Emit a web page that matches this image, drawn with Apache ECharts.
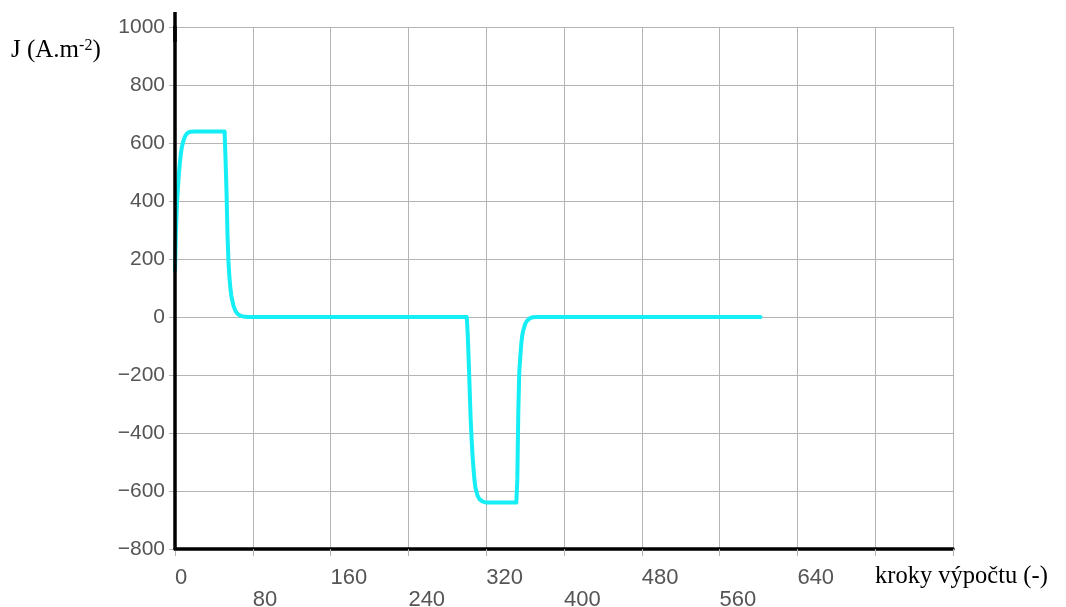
<!DOCTYPE html>
<html>
<head>
<meta charset="utf-8">
<script src="https://cdn.jsdelivr.net/npm/echarts@6/dist/echarts.min.js"></script>
<style>
  html, body { margin: 0; padding: 0; background: #ffffff; }
  #chart { width: 1066px; height: 607px; }
</style>
</head>
<body>
<div id="chart"></div>
<script>
// Calculation step index (x) and current density J in A.m^-2 (y)
const steps = [
  0, 1, 2, 3, 4, 5, 6, 7, 9, 11, 13, 16, 20,
  51, 52, 53, 54, 55, 56, 57, 58, 60, 62, 64, 67, 70, 75,
  300, 301, 302, 303, 304, 305, 306, 307, 308, 309, 311, 313, 316, 320,
  351, 352, 353, 354, 355, 356, 357, 358, 360, 362, 365, 368, 372,
  602
];
const currentDensity = [
  160, 300, 390, 445, 495, 532, 562, 585, 612, 627, 635, 639, 640,
  640, 540, 430, 280, 190, 135, 98, 72, 40, 22, 12, 5, 2, 0,
  0, -60, -150, -250, -350, -420, -480, -525, -565, -590, -615, -628, -636, -640,
  -640, -560, -330, -190, -140, -95, -65, -48, -24, -13, -4, -1, 0,
  0
];

// Axis ranges and tick labels
const xRange = [0, 800];
const xStep = 80;
const xLabelsUpper = [0, 160, 320, 480, 640];
const xLabelsLower = [80, 240, 400, 560];
const yRange = [-800, 1000];
const yStep = 200;

const yTitle = 'J (A.m';
const yTitleSup = '-2';
const xTitle = 'kroky výpočtu (-)';

const seriesData = steps.map((s, i) => [s, currentDensity[i]]);

// Plot frame
const W = 1066, H = 607;
const plotL = 175, plotR = 953, plotT = 27, plotB = 549;
const unitPx = (plotR - plotL) / (xRange[1] - xRange[0]);
const lowerFirst = xLabelsLower[0];
const lowerLast = xLabelsLower[xLabelsLower.length - 1];

const gridColor = '#b4b4b4';
const labelFont = 'Liberation Sans, Arial, sans-serif';
const serifFont = 'Liberation Serif, Times New Roman, serif';

const baseGrid = {
  top: plotT, bottom: H - plotB,
  outerBoundsMode: 'none', containLabel: false
};

const chart = echarts.init(document.getElementById('chart'), null, { renderer: 'canvas' });

chart.setOption({
  animation: false,
  backgroundColor: '#ffffff',
  title: [
    {
      text: '{a|' + yTitle + '}{s|' + yTitleSup + '}{a|)}',
      left: 11, top: 38, padding: 0,
      textStyle: {
        fontWeight: 'normal',
        rich: {
          a: { fontFamily: serifFont, fontSize: 25, lineHeight: 24, fontWeight: 'normal', color: '#000' },
          s: { fontFamily: serifFont, fontSize: 16, lineHeight: 14, fontWeight: 'normal', color: '#000', verticalAlign: 'top' }
        }
      }
    },
    {
      text: xTitle,
      left: 875, top: 565, padding: 0,
      textStyle: { fontFamily: serifFont, fontSize: 24.5, lineHeight: 24, fontWeight: 'normal', color: '#000' }
    }
  ],
  grid: [
    Object.assign({ left: plotL, right: W - plotR }, baseGrid),
    Object.assign({
      left: plotL + (lowerFirst - xRange[0]) * unitPx,
      right: W - (plotL + (lowerLast - xRange[0]) * unitPx)
    }, baseGrid),
    Object.assign({ left: plotL, right: W - plotR }, baseGrid)
  ],
  xAxis: [
    {
      type: 'value', gridIndex: 0,
      min: xRange[0], max: xRange[1], interval: xStep,
      axisLine: { show: true, onZero: false, lineStyle: { color: '#000', width: 3.5 } },
      axisTick: { show: true, length: 7, lineStyle: { color: gridColor, width: 1 } },
      splitLine: { show: true, lineStyle: { color: gridColor, width: 1 } },
      axisLabel: {
        margin: 18,
        align: 'left',
        showMaxLabel: true,
        formatter: v => {
          if (xLabelsUpper.indexOf(v) >= 0) return '{u|' + v + '}';
          if (xLabelsLower.indexOf(v) >= 0) return '{l|' + v + '}';
          return '';
        },
        rich: {
          u: { fontFamily: labelFont, fontSize: 22, lineHeight: 22, color: '#555' },
          l: { fontFamily: labelFont, fontSize: 22, lineHeight: 22, color: '#555', padding: [44, 0, 0, 0] }
        }
      }
    },
    {
      // longer ticks under the lower-row labels
      type: 'value', gridIndex: 1,
      min: lowerFirst, max: lowerLast, interval: xStep * 2,
      axisLine: { show: false },
      axisTick: { show: true, length: 15, lineStyle: { color: gridColor, width: 1 } },
      splitLine: { show: false },
      axisLabel: { show: false }
    },
    {
      type: 'value', gridIndex: 2, show: false,
      min: xRange[0], max: xRange[1]
    }
  ],
  yAxis: [
    {
      type: 'value', gridIndex: 0,
      min: yRange[0], max: yRange[1], interval: yStep,
      axisLine: { show: false },
      axisTick: { show: true, length: 6, lineStyle: { color: gridColor, width: 1 } },
      splitLine: { show: true, lineStyle: { color: gridColor, width: 1 } },
      axisLabel: {
        margin: 10,
        fontFamily: labelFont, fontSize: 21, color: '#555',
        formatter: v => (v < 0 ? '\u2212' + Math.abs(v) : String(v))
      }
    },
    {
      type: 'value', gridIndex: 1, show: false,
      min: yRange[0], max: yRange[1]
    },
    {
      // heavy vertical axis line drawn above the curve, extending past the top tick
      type: 'value', gridIndex: 2, z: 10,
      min: yRange[0], max: yRange[1],
      axisLine: {
        show: true, onZero: false,
        symbol: ['none', 'rect'], symbolSize: [3.5, 30],
        lineStyle: { color: '#000', width: 3.5 }
      },
      axisTick: { show: false },
      splitLine: { show: false },
      axisLabel: { show: false }
    }
  ],
  series: [
    {
      type: 'line',
      xAxisIndex: 0, yAxisIndex: 0,
      data: seriesData,
      showSymbol: false,
      symbol: 'none',
      smooth: false,
      lineStyle: { color: '#14eef4', width: 4, cap: 'round', join: 'round' },
      z: 2
    }
  ]
});
</script>
</body>
</html>
